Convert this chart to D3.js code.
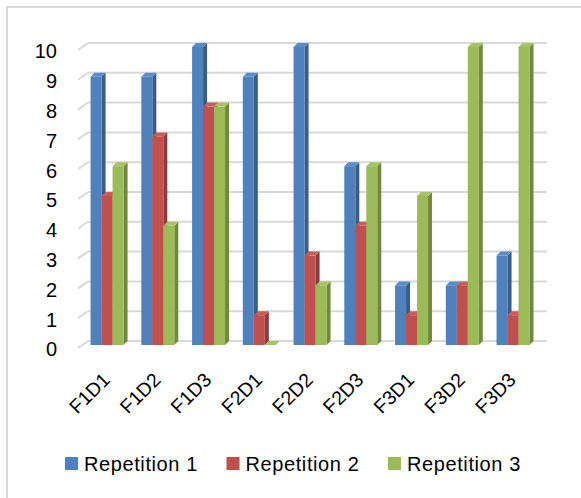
<html>
<head>
<script src="https://d3js.org/d3.v7.min.js"></script>
<style>
  body { margin: 0; background: #fff; }
  text { font-family: "Liberation Sans", Arial, sans-serif; fill: #000; }
</style>
</head>
<body>
<div id="chart"></div>
<script>
var categories = ["F1D1", "F1D2", "F1D3", "F2D1", "F2D2", "F2D3", "F3D1", "F3D2", "F3D3"]
var seriesNames = ["Repetition 1", "Repetition 2", "Repetition 3"]
var rep1 = [9, 9, 10, 9, 10, 6, 2, 2, 3]
var rep2 = [5, 7, 8, 1, 3, 4, 1, 2, 1]
var rep3 = [6, 4, 8, 0, 2, 6, 5, 10, 10]
var yTicks = [0, 1, 2, 3, 4, 5, 6, 7, 8, 9, 10]

var frontColors = ["#4F81BD", "#C0504D", "#9BBB59"]
var sideColors = ["#385D8A", "#8C3A38", "#71893F"]
var topColors = ["#5B8CC6", "#C95D5A", "#A6C466"]

var width = 581, height = 498
var depthX = 4, depthY = -4   // 3d offset of the bar tops / back wall

var svg = d3.select("#chart").append("svg")
	.attr("width", width)
	.attr("height", height)

// outer chart border (only top and left show in the frame)
svg.append("rect")
	.attr("x", 7).attr("y", 7)
	.attr("width", 600).attr("height", 520)
	.attr("fill", "none")
	.attr("stroke", "#d9d9d9")
	.attr("stroke-width", 2)

var y = d3.scaleLinear().domain([0, 10]).range([345, 47])

var x0 = d3.scaleBand()
	.domain(categories)
	.range([85.5, 534.6])
	.paddingInner(0.35)
	.paddingOuter(0.1)

var x1 = d3.scaleBand()
	.domain(seriesNames)
	.range([0, x0.bandwidth()])

// gridlines: back wall + short floor stub on the left side wall
var grid = svg.append("g")
yTicks.forEach(function(t){
	var yb = y(t) + depthY
	grid.append("line")
		.attr("x1", 88).attr("x2", 547)
		.attr("y1", yb).attr("y2", yb)
		.attr("stroke", "#d9d9d9").attr("stroke-width", 2)
	grid.append("line")
		.attr("x1", 78).attr("x2", 88)
		.attr("y1", y(t) + 3).attr("y2", yb)
		.attr("stroke", "#d9d9d9").attr("stroke-width", 2)
})

// y axis labels
var yAxis = svg.append("g")
	.attr("transform", "translate(57,4.5)")
	.call(d3.axisLeft(y).tickValues(yTicks).tickSize(0).tickPadding(0))
yAxis.select(".domain").remove()
yAxis.selectAll("text")
	.style("font-family", "Liberation Sans, Arial, sans-serif")
	.style("font-size", "20px")
	.attr("fill", "#000")

// bars
var allSeries = [rep1, rep2, rep3]
var base = y(0)
categories.forEach(function(cat, ci){
	var g = svg.append("g")
	allSeries.forEach(function(vals, si){
		var v = vals[ci]
		var bx = x0(cat) + x1(seriesNames[si])
		var bw = x1.bandwidth()
		var yt = y(v)
		// side face
		g.append("polygon")
			.attr("points", [
				[bx + bw, yt], [bx + bw + depthX, yt + depthY],
				[bx + bw + depthX, base + depthY], [bx + bw, base]
			].join(" "))
			.attr("fill", sideColors[si])
		// top face
		g.append("polygon")
			.attr("points", [
				[bx, yt], [bx + bw, yt],
				[bx + bw + depthX, yt + depthY], [bx + depthX, yt + depthY]
			].join(" "))
			.attr("fill", topColors[si])
		// front face
		g.append("rect")
			.attr("x", bx).attr("y", yt)
			.attr("width", bw).attr("height", base - yt)
			.attr("fill", frontColors[si])
	})
})

// category labels, rotated
svg.append("g").selectAll("text")
	.data(categories)
	.enter()
	.append("text")
	.attr("transform", function(d){
		var cx = x0(d) + x0.bandwidth() / 2 + 4
		return "translate(" + cx + ",381) rotate(-45)"
	})
	.attr("text-anchor", "end")
	.style("font-size", "19.5px")
	.text(function(d){ return d })

// legend
var legend = svg.append("g")
seriesNames.forEach(function(name, i){
	var lx = 65 + i * 161.5
	legend.append("rect")
		.attr("x", lx).attr("y", 457)
		.attr("width", 13).attr("height", 13)
		.attr("fill", frontColors[i])
	legend.append("text")
		.attr("x", lx + 19).attr("y", 471)
		.style("font-size", "20px")
		.style("letter-spacing", "0.6px")
		.text(name)
})
</script>
</body>
</html>
